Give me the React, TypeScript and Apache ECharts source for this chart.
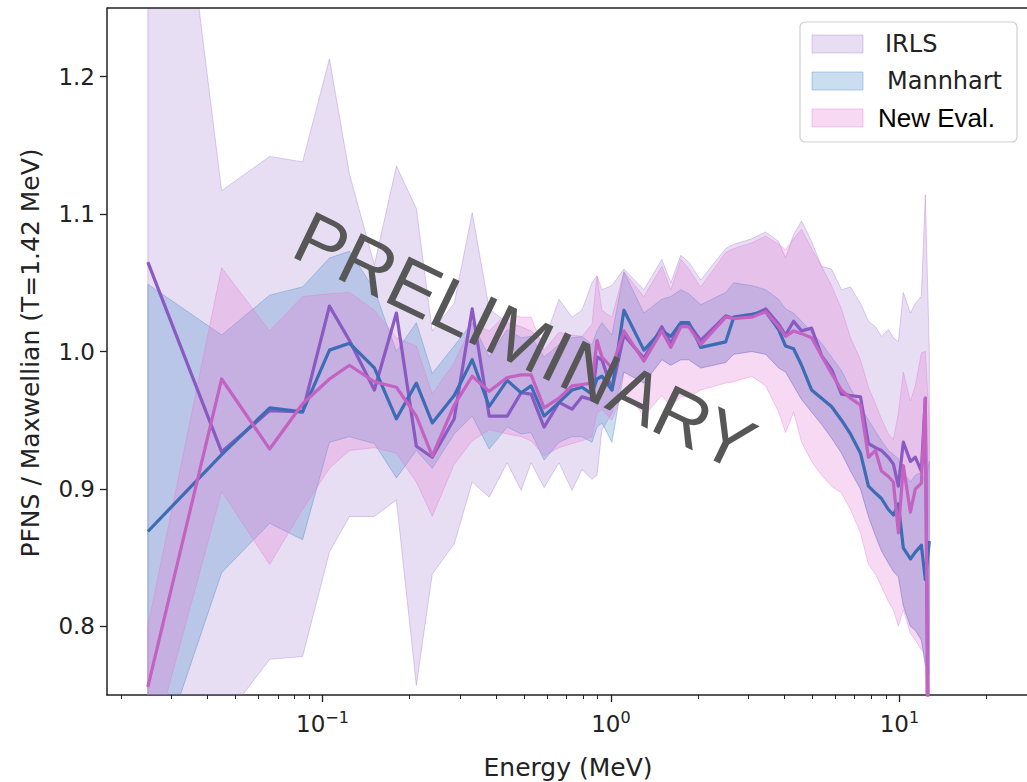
import React, { useEffect, useRef } from "react";
import * as echarts from "echarts";

// Energy grid (MeV)
const energy = [0.0248, 0.0447, 0.0656, 0.0853, 0.1057, 0.124, 0.1513, 0.1804, 0.2115, 0.2402, 0.2862, 0.3304, 0.3784, 0.4368, 0.4883, 0.5287, 0.5864, 0.6607, 0.7328, 0.7937, 0.8596, 0.8945, 0.9308, 1.008, 1.109, 1.301, 1.501, 1.613, 1.747, 1.862, 2.048, 2.5, 2.665, 3.076, 3.439, 3.814, 4.032, 4.298, 4.58, 4.961, 5.373, 5.818, 6.301, 6.768, 7.331, 7.812, 8.26, 8.665, 9.16, 9.533, 9.92, 10.32, 10.92, 11.36, 11.92, 12.3, 12.7];

// IRLS
const irlsMean = [1.065, 0.927, 0.957, 0.956, 1.033, 1.008, 0.972, 1.028, 0.931, 0.923, 0.951, 1.031, 0.953, 0.953, 0.970, 0.969, 0.945, 0.963, 0.958, 0.967, 0.965, 0.996, 0.994, 0.972, 1.012, 0.995, 1.018, 1.006, 1.020, 1.020, 1.008, 1.026, 1.024, 1.026, 1.031, 1.020, 1.012, 1.022, 1.015, 1.017, 0.997, 0.987, 0.969, 0.968, 0.967, 0.933, 0.930, 0.928, 0.923, 0.918, 0.902, 0.934, 0.920, 0.923, 0.913, 0.966, 0.600];
const irlsLow = [0.600, 0.730, 0.776, 0.778, 0.854, 0.880, 0.880, 0.892, 0.757, 0.838, 0.860, 0.905, 0.894, 0.919, 0.899, 0.919, 0.901, 0.919, 0.899, 0.914, 0.907, 0.910, 0.943, 0.955, 0.985, 0.977, 0.994, 0.990, 0.994, 0.994, 0.988, 0.992, 0.998, 1.000, 0.998, 0.988, 0.985, 0.975, 0.965, 0.956, 0.947, 0.937, 0.926, 0.913, 0.900, 0.880, 0.866, 0.855, 0.846, 0.840, 0.836, 0.815, 0.800, 0.797, 0.790, 0.772, 0.500];
const irlsHigh = [1.550, 1.117, 1.142, 1.138, 1.213, 1.129, 1.063, 1.135, 1.104, 1.015, 1.035, 1.101, 1.031, 1.021, 1.018, 1.015, 1.007, 1.038, 1.025, 1.030, 1.050, 1.055, 1.045, 1.048, 1.060, 1.045, 1.067, 1.050, 1.070, 1.065, 1.052, 1.075, 1.078, 1.082, 1.087, 1.080, 1.068, 1.085, 1.095, 1.080, 1.062, 1.060, 1.045, 1.047, 1.035, 1.022, 1.018, 1.011, 1.016, 1.010, 1.007, 1.043, 1.028, 1.035, 1.040, 1.114, 1.000];

// Mannhart
const mannMean = [0.869, 0.925, 0.959, 0.956, 1.001, 1.006, 0.988, 0.951, 0.977, 0.948, 0.968, 0.994, 0.960, 0.979, 0.970, 0.975, 0.953, 0.963, 0.972, 0.974, 0.969, 0.980, 0.982, 0.972, 1.030, 1.001, 1.015, 1.011, 1.021, 1.021, 1.003, 1.007, 1.025, 1.027, 1.029, 1.016, 1.004, 1.002, 0.990, 0.972, 0.966, 0.960, 0.950, 0.940, 0.926, 0.902, 0.897, 0.893, 0.885, 0.881, 0.889, 0.857, 0.849, 0.854, 0.859, 0.834, 0.862];
const mannLow = [0.680, 0.839, 0.875, 0.863, 0.934, 0.938, 0.933, 0.908, 0.928, 0.915, 0.940, 0.953, 0.929, 0.945, 0.940, 0.941, 0.921, 0.934, 0.938, 0.938, 0.934, 0.945, 0.948, 0.934, 0.985, 0.977, 0.994, 0.990, 0.994, 0.994, 0.988, 0.992, 0.998, 1.000, 0.998, 0.988, 0.985, 0.975, 0.965, 0.956, 0.947, 0.937, 0.926, 0.913, 0.900, 0.880, 0.866, 0.855, 0.846, 0.840, 0.836, 0.815, 0.800, 0.797, 0.790, 0.772, 0.765];
const mannHigh = [1.049, 1.012, 1.041, 1.047, 1.068, 1.073, 1.045, 1.000, 1.021, 0.984, 1.004, 1.021, 0.996, 1.016, 1.010, 1.011, 0.996, 1.005, 1.010, 1.011, 1.005, 1.015, 1.021, 1.012, 1.058, 1.028, 1.038, 1.040, 1.045, 1.042, 1.034, 1.043, 1.050, 1.048, 1.045, 1.038, 1.031, 1.028, 1.022, 1.014, 1.006, 0.996, 0.986, 0.973, 0.960, 0.950, 0.942, 0.935, 0.928, 0.925, 0.922, 0.912, 0.905, 0.910, 0.912, 0.905, 0.920];

// New Eval.
const newMean = [0.756, 0.980, 0.929, 0.962, 0.980, 0.990, 0.978, 0.974, 0.953, 0.924, 0.961, 0.982, 0.971, 0.981, 0.983, 0.983, 0.959, 0.966, 0.975, 0.976, 0.977, 1.008, 0.996, 0.988, 1.015, 0.993, 1.015, 1.003, 1.018, 1.018, 1.005, 1.025, 1.024, 1.025, 1.029, 1.018, 1.011, 1.015, 1.013, 1.010, 0.997, 0.984, 0.972, 0.966, 0.961, 0.923, 0.928, 0.913, 0.909, 0.905, 0.868, 0.917, 0.883, 0.900, 0.904, 0.966, 0.600];
const newLow = [0.700, 0.898, 0.845, 0.885, 0.915, 0.928, 0.930, 0.926, 0.905, 0.880, 0.918, 0.935, 0.943, 0.940, 0.938, 0.935, 0.924, 0.930, 0.933, 0.935, 0.938, 0.955, 0.958, 0.950, 0.972, 0.953, 0.968, 0.960, 0.967, 0.967, 0.972, 0.977, 0.978, 0.982, 0.975, 0.956, 0.941, 0.956, 0.934, 0.920, 0.910, 0.902, 0.897, 0.885, 0.868, 0.845, 0.838, 0.829, 0.818, 0.812, 0.800, 0.812, 0.795, 0.790, 0.783, 0.780, 0.500];
const newHigh = [0.800, 1.061, 1.015, 1.040, 1.042, 1.043, 1.030, 1.010, 1.004, 0.969, 0.992, 1.020, 1.015, 1.028, 1.025, 1.025, 1.001, 1.014, 1.012, 1.011, 1.020, 1.055, 1.030, 1.025, 1.058, 1.040, 1.062, 1.045, 1.067, 1.060, 1.047, 1.072, 1.075, 1.079, 1.084, 1.078, 1.074, 1.082, 1.089, 1.075, 1.062, 1.048, 1.031, 1.010, 0.994, 0.974, 0.962, 0.951, 0.940, 0.936, 0.955, 0.985, 0.964, 0.975, 0.999, 1.000, 0.950];

const xMajorTicks = [0.1, 1, 10];
const xMinorTicks = [0.02, 0.03, 0.04, 0.05, 0.06, 0.07, 0.08, 0.09, 0.2, 0.3, 0.4, 0.5, 0.6, 0.7, 0.8, 0.9, 2, 3, 4, 5, 6, 7, 8, 9, 20];
const yTicks = [0.8, 0.9, 1.0, 1.1, 1.2];
const legendNames = ["IRLS", "Mannhart", "New Eval."];

const FONT = "DejaVu Sans";
const AX = "#222";

const bandFill = ["rgba(160,115,205,0.24)", "rgba(70,135,200,0.28)", "rgba(228,120,212,0.28)"];
const bandEdge = ["rgba(160,115,205,0.35)", "rgba(70,135,200,0.38)", "rgba(228,120,212,0.38)"];
const lineColor = ["#8a5ac2", "#3e6cb4", "#c462c2"];

function bandSeries(name: string, low: number[], high: number[], k: number) {
  return {
    name: name + "-band",
    type: "custom",
    data: energy.map((e, i) => [e, low[i], high[i]]),
    encode: { x: 0, y: [1, 2] },
    silent: true,
    z: 1,
    renderItem: (params: any, api: any) => {
      if (params.dataIndex !== 0) return null;
      const top = energy.map((e, i) => api.coord([e, high[i]]));
      const bot = energy.map((e, i) => api.coord([e, low[i]])).reverse();
      const cs = params.coordSys;
      return {
        type: "polygon",
        shape: { points: top.concat(bot) },
        style: { fill: bandFill[k], stroke: bandEdge[k], lineWidth: 1 },
        clipPath: { type: "rect", shape: { x: cs.x, y: cs.y, width: cs.width, height: cs.height } },
      };
    },
  };
}

function lineSeries(name: string, vals: number[], k: number) {
  return {
    name: name + "-mean",
    type: "line",
    data: energy.map((e, i) => [e, vals[i]]),
    symbol: "none",
    lineStyle: { width: 3.2, color: lineColor[k], join: "round" },
    z: 3,
  };
}

export default function App() {
  const ref = useRef<HTMLDivElement>(null);
  useEffect(() => {
    if (!ref.current) return;
    const chart = echarts.init(ref.current, undefined, { renderer: "svg" });
    const xAxisBase = {
      type: "log",
      logBase: 10,
      min: 0.0179,
      max: 27.7,
      gridIndex: 0,
      position: "bottom",
      splitLine: { show: false },
      minorTick: { show: false },
    };
    const legendY = [44, 81, 118];
    const legendTextX = [885, 887, 878];
    const legendGraphics: any[] = [
      {
        type: "rect",
        shape: { x: 800, y: 22, width: 217, height: 120, r: 5 },
        style: { fill: "rgba(255,255,255,0.85)", stroke: "#cfcfcf", lineWidth: 1.2 },
        z: 50,
      },
    ];
    legendNames.forEach((n, k) => {
      legendGraphics.push({
        type: "rect",
        shape: { x: 812, y: legendY[k] - 9, width: 51, height: 18 },
        style: { fill: bandFill[k], stroke: bandEdge[k], lineWidth: 1 },
        z: 51,
      });
      legendGraphics.push({
        type: "text",
        x: legendTextX[k],
        y: legendY[k],
        style: {
          text: n,
          fontSize: k === 2 ? 26 : 24,
          fontFamily: k === 2 ? "Liberation Sans" : FONT,
          fill: k === 2 ? "#000" : "#222",
          align: "left",
          verticalAlign: "middle",
        },
        z: 52,
      });
    });

    const option: any = {
      animation: false,
      backgroundColor: "#fff",
      grid: { left: 107, right: 0, top: 8, bottom: 87, containLabel: false },
      xAxis: [
        {
          ...xAxisBase,
          axisLine: { show: true, lineStyle: { color: AX, width: 1.5 } },
          axisTick: { show: true, customValues: xMajorTicks, length: 7, lineStyle: { color: AX, width: 1.3 } },
          axisLabel: {
            show: true,
            customValues: xMajorTicks,
            margin: 14,
            formatter: (v: number) => {
              const e = Math.round(Math.log10(v));
              return "{b|10}{s|" + (e < 0 ? "\u2212" + -e : String(e)) + "}";
            },
            rich: {
              b: { fontSize: 23, fontFamily: FONT, color: AX, lineHeight: 30 },
              s: { fontSize: 16, fontFamily: FONT, color: AX, lineHeight: 16, verticalAlign: "top" },
            },
          },
        },
        {
          ...xAxisBase,
          axisLine: { show: false },
          axisTick: { show: true, customValues: xMinorTicks, length: 4, lineStyle: { color: AX, width: 1 } },
          axisLabel: { show: false },
        },
      ],
      yAxis: {
        type: "value",
        min: 0.75,
        max: 1.25,
        axisLine: { show: true, lineStyle: { color: AX, width: 1.5 } },
        axisTick: { show: true, customValues: yTicks, length: 7, lineStyle: { color: AX, width: 1.3 } },
        axisLabel: {
          customValues: yTicks,
          formatter: (v: number) => v.toFixed(1),
          fontSize: 23,
          fontFamily: FONT,
          color: AX,
          margin: 12,
        },
        splitLine: { show: false },
      },
      series: [
        bandSeries("IRLS", irlsLow, irlsHigh, 0),
        bandSeries("Mannhart", mannLow, mannHigh, 1),
        bandSeries("New Eval.", newLow, newHigh, 2),
        lineSeries("IRLS", irlsMean, 0),
        lineSeries("Mannhart", mannMean, 1),
        lineSeries("New Eval.", newMean, 2),
      ],
      graphic: [
        {
          type: "line",
          shape: { x1: 107, y1: 8, x2: 1027, y2: 8 },
          style: { stroke: AX, lineWidth: 1.5 },
          z: 10,
        },
        {
          type: "text",
          x: 30,
          y: 353,
          rotation: Math.PI / 2,
          style: {
            text: "PFNS / Maxwellian (T=1.42 MeV)",
            fontSize: 25,
            fontFamily: FONT,
            fill: AX,
            align: "center",
            verticalAlign: "middle",
          },
        },
        {
          type: "text",
          x: 568,
          y: 767,
          style: {
            text: "Energy (MeV)",
            fontSize: 25,
            fontFamily: FONT,
            fill: AX,
            align: "center",
            verticalAlign: "middle",
          },
        },
        {
          type: "text",
          x: 525,
          y: 341,
          rotation: -0.45,
          style: {
            text: "PRELIMINARY",
            fontSize: 74,
            fontFamily: "Liberation Sans",
            fill: "#575757",
            align: "center",
            verticalAlign: "middle",
          },
          z: 100,
        },
        ...legendGraphics,
      ],
    };
    chart.setOption(option);
    return () => chart.dispose();
  }, []);
  return (
    <div
      ref={ref}
      style={{ position: "absolute", left: 0, top: 0, width: 1027, height: 782 }}
    />
  );
}
